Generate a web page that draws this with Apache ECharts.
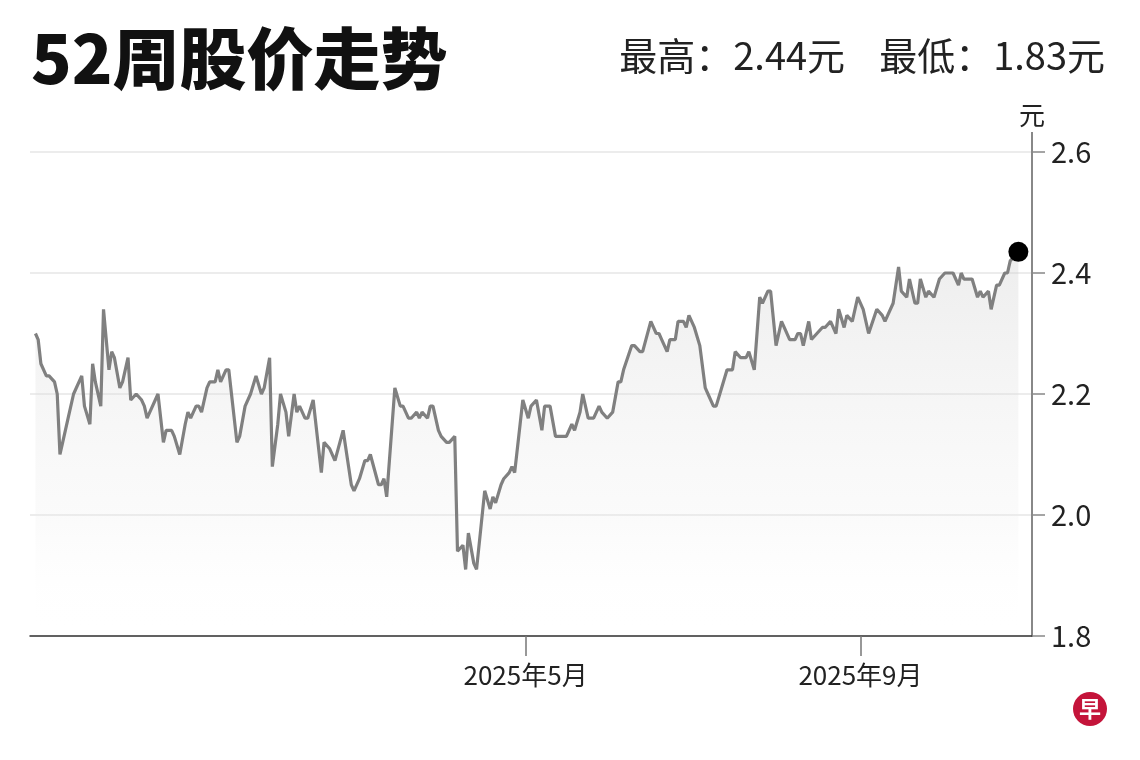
<!DOCTYPE html>
<html>
<head>
<meta charset="utf-8">
<script src="https://cdn.jsdelivr.net/npm/echarts@6/dist/echarts.min.js"></script>
<style>
html,body{margin:0;padding:0;background:#fff;}
#chart{width:1140px;height:760px;}
</style>
</head>
<body>
<div id="chart"></div>
<script>
// ---- data ----
const titleText = '52周股价走势';
const summaryText = '最高：2.44元    最低：1.83元';
const unitText = '元';
const yTicks = [1.8, 2.0, 2.2, 2.4, 2.6];
const xLabelDates = ['2025-05-01', '2025-09-01'];
const xRange = ['2024-10-31', '2025-11-03'];

const dates = [
'2024-11-02','2024-11-03','2024-11-04','2024-11-06','2024-11-07','2024-11-09','2024-11-10','2024-11-11','2024-11-12','2024-11-14',
'2024-11-16','2024-11-19','2024-11-20','2024-11-22','2024-11-23','2024-11-24','2024-11-26','2024-11-27','2024-11-29','2024-11-30',
'2024-12-01','2024-12-03','2024-12-04','2024-12-06','2024-12-07','2024-12-09','2024-12-11','2024-12-12','2024-12-13','2024-12-14',
'2024-12-17','2024-12-19','2024-12-20','2024-12-22','2024-12-23','2024-12-25','2024-12-27','2024-12-28','2024-12-29','2024-12-31',
'2025-01-01','2025-01-02','2025-01-04','2025-01-05','2025-01-07','2025-01-08','2025-01-09','2025-01-11','2025-01-12','2025-01-15',
'2025-01-16','2025-01-18','2025-01-20','2025-01-22','2025-01-24','2025-01-25','2025-01-27','2025-01-28','2025-01-30','2025-01-31',
'2025-02-02','2025-02-03','2025-02-05','2025-02-06','2025-02-07','2025-02-09','2025-02-10','2025-02-12','2025-02-15','2025-02-16',
'2025-02-18','2025-02-20','2025-02-23','2025-02-26','2025-02-27','2025-03-01','2025-03-03','2025-03-04','2025-03-05','2025-03-08',
'2025-03-09','2025-03-10','2025-03-11','2025-03-14','2025-03-16','2025-03-17','2025-03-19','2025-03-20','2025-03-22','2025-03-23',
'2025-03-24','2025-03-26','2025-03-27','2025-03-28','2025-03-30','2025-03-31','2025-04-02','2025-04-03','2025-04-05','2025-04-06',
'2025-04-08','2025-04-09','2025-04-10','2025-04-12','2025-04-13','2025-04-16','2025-04-18','2025-04-19','2025-04-20','2025-04-22',
'2025-04-23','2025-04-25','2025-04-26','2025-04-27','2025-04-29','2025-04-30','2025-05-02','2025-05-03','2025-05-05','2025-05-07',
'2025-05-08','2025-05-10','2025-05-12','2025-05-15','2025-05-16','2025-05-18','2025-05-19','2025-05-21','2025-05-22','2025-05-24',
'2025-05-26','2025-05-28','2025-05-29','2025-05-31','2025-06-02','2025-06-04','2025-06-05','2025-06-06','2025-06-09','2025-06-10',
'2025-06-12','2025-06-13','2025-06-16','2025-06-18','2025-06-19','2025-06-20','2025-06-22','2025-06-23','2025-06-25','2025-06-26',
'2025-06-28','2025-06-29','2025-06-30','2025-07-02','2025-07-04','2025-07-06','2025-07-07','2025-07-09','2025-07-10','2025-07-12',
'2025-07-14','2025-07-16','2025-07-17','2025-07-19','2025-07-21','2025-07-22','2025-07-24','2025-07-26','2025-07-27','2025-07-29',
'2025-07-30','2025-08-01','2025-08-03','2025-08-04','2025-08-06','2025-08-08','2025-08-09','2025-08-10','2025-08-11','2025-08-13',
'2025-08-14','2025-08-16','2025-08-18','2025-08-19','2025-08-21','2025-08-23','2025-08-24','2025-08-26','2025-08-27','2025-08-29',
'2025-08-31','2025-09-02','2025-09-04','2025-09-07','2025-09-09','2025-09-10','2025-09-13','2025-09-15','2025-09-16','2025-09-18',
'2025-09-19','2025-09-21','2025-09-22','2025-09-23','2025-09-25','2025-09-26','2025-09-28','2025-09-30','2025-10-02','2025-10-04',
'2025-10-05','2025-10-07','2025-10-08','2025-10-09','2025-10-12','2025-10-14','2025-10-15','2025-10-16','2025-10-18','2025-10-19',
'2025-10-21','2025-10-22','2025-10-24','2025-10-25','2025-10-26','2025-10-28','2025-10-29'
];

const prices = [
2.30,2.29,2.25,2.23,2.23,2.22,2.20,2.10,2.12,2.16,
2.20,2.23,2.18,2.15,2.25,2.22,2.18,2.34,2.24,2.27,
2.26,2.21,2.22,2.26,2.19,2.20,2.19,2.18,2.16,2.17,
2.20,2.12,2.14,2.14,2.13,2.10,2.15,2.17,2.16,2.18,
2.18,2.17,2.21,2.22,2.22,2.24,2.22,2.24,2.24,2.12,
2.13,2.18,2.20,2.23,2.20,2.21,2.26,2.08,2.15,2.20,
2.17,2.13,2.20,2.17,2.18,2.16,2.16,2.19,2.07,2.12,
2.11,2.09,2.14,2.05,2.04,2.06,2.09,2.09,2.10,2.05,
2.05,2.06,2.03,2.21,2.18,2.18,2.16,2.16,2.17,2.16,
2.17,2.16,2.18,2.18,2.14,2.13,2.12,2.12,2.13,1.94,
1.95,1.91,1.97,1.92,1.91,2.04,2.01,2.03,2.02,2.05,
2.06,2.07,2.08,2.07,2.15,2.19,2.16,2.18,2.19,2.14,
2.18,2.18,2.13,2.13,2.13,2.15,2.14,2.17,2.20,2.16,
2.16,2.18,2.17,2.16,2.17,2.22,2.22,2.24,2.28,2.28,
2.27,2.27,2.32,2.30,2.30,2.29,2.27,2.29,2.29,2.32,
2.32,2.31,2.33,2.31,2.28,2.21,2.20,2.18,2.18,2.21,
2.24,2.24,2.27,2.26,2.26,2.27,2.24,2.36,2.35,2.37,
2.37,2.28,2.32,2.31,2.29,2.29,2.30,2.30,2.28,2.32,
2.29,2.30,2.31,2.31,2.32,2.30,2.34,2.31,2.33,2.32,
2.36,2.34,2.30,2.34,2.33,2.32,2.35,2.41,2.37,2.36,
2.39,2.35,2.35,2.39,2.36,2.37,2.36,2.39,2.40,2.40,
2.40,2.38,2.40,2.39,2.39,2.36,2.37,2.36,2.37,2.34,
2.38,2.38,2.40,2.40,2.42,2.43,2.435
];

// ---- chart ----
const FONT = '"Noto Sans CJK SC", "Noto Sans", sans-serif';
function toTime(s) {
  const p = s.split('-').map(Number);
  return new Date(p[0], p[1] - 1, p[2]).getTime();
}
const seriesData = dates.map((d, i) => [toTime(d), prices[i]]);
const lastPoint = [[toTime(dates[dates.length - 1]), prices[prices.length - 1]]];
const xMin = toTime(xRange[0]);
const xMax = toTime(xRange[1]);
const xLabelTimes = xLabelDates.map(toTime);

const chart = echarts.init(document.getElementById('chart'), null, {renderer: 'canvas'});
chart.setOption({
  animation: false,
  backgroundColor: '#ffffff',
  title: [
    {
      text: titleText, left: 26, top: 20,
      textStyle: {fontFamily: FONT, fontSize: 67, fontWeight: 900, color: '#111'}
    },
    {
      text: summaryText, right: 30, top: 32,
      textStyle: {fontFamily: FONT, fontSize: 38, fontWeight: 400, color: '#222'}
    }
  ],
  grid: {left: 30, right: 108, top: 152, bottom: 124},
  xAxis: [
    {
      type: 'value',
      min: xMin,
      max: xMax,
      position: 'bottom',
      axisLine: {show: true, onZero: false, lineStyle: {color: '#333', width: 1.5}},
      axisTick: {show: false},
      axisLabel: {show: false},
      splitLine: {show: false}
    },
    {
      type: 'value',
      min: xMin,
      max: xMax,
      position: 'bottom',
      offset: 0,
      axisLine: {show: false, onZero: false},
      axisTick: {
        show: true, length: 20, inside: false,
        customValues: xLabelTimes,
        lineStyle: {color: '#777', width: 1.5}
      },
      axisLabel: {
        show: true,
        customValues: xLabelTimes,
        margin: 26,
        fontFamily: FONT, fontSize: 26, color: '#222',
        formatter: function (v) {
          const d = new Date(v);
          return d.getFullYear() + '年' + (d.getMonth() + 1) + '月';
        }
      },
      splitLine: {show: false}
    }
  ],
  yAxis: {
    type: 'value',
    position: 'right',
    min: yTicks[0],
    max: yTicks[yTicks.length - 1],
    interval: 0.2,
    name: unitText,
    nameLocation: 'end',
    nameGap: 24,
    nameTextStyle: {fontFamily: FONT, fontSize: 26, color: '#222', align: 'center'},
    axisLine: {show: true, lineStyle: {color: '#888', width: 2}},
    axisTick: {show: true, length: 13, lineStyle: {color: '#888', width: 1.5}},
    axisLabel: {
      margin: 19, fontFamily: FONT, fontSize: 29, color: '#222',
      formatter: v => v.toFixed(1)
    },
    splitLine: {show: true, lineStyle: {color: '#ececec', width: 2}}
  },
  series: [
    {
      type: 'line',
      xAxisIndex: 0,
      data: seriesData,
      showSymbol: false,
      symbol: 'none',
      lineStyle: {color: '#808080', width: 3.2},
      areaStyle: {
        origin: 'start',
        color: new echarts.graphic.LinearGradient(0, 0, 0, 1, [
          {offset: 0, color: 'rgba(205,205,205,0.5)'},
          {offset: 0.7, color: 'rgba(235,235,235,0.3)'},
          {offset: 1, color: 'rgba(255,255,255,0)'}
        ])
      },
      z: 3
    },
    {
      type: 'scatter',
      xAxisIndex: 0,
      data: lastPoint,
      symbol: 'circle',
      symbolSize: 20,
      itemStyle: {color: '#000', opacity: 1},
      z: 5
    }
  ],
  graphic: [
    {
      type: 'line', z: 1,
      shape: {x1: 1032, y1: 132, x2: 1032, y2: 152},
      style: {stroke: '#888', lineWidth: 2}
    },
    {
      type: 'circle', z: 10,
      shape: {cx: 1090, cy: 709, r: 17},
      style: {fill: '#c4143a'}
    },
    {
      type: 'text', z: 11,
      x: 1090, y: 709,
      style: {text: '早', fill: '#fff', font: 'bold 22px "Noto Sans CJK SC"', align: 'center', verticalAlign: 'middle'}
    }
  ]
});
</script>
</body>
</html>
